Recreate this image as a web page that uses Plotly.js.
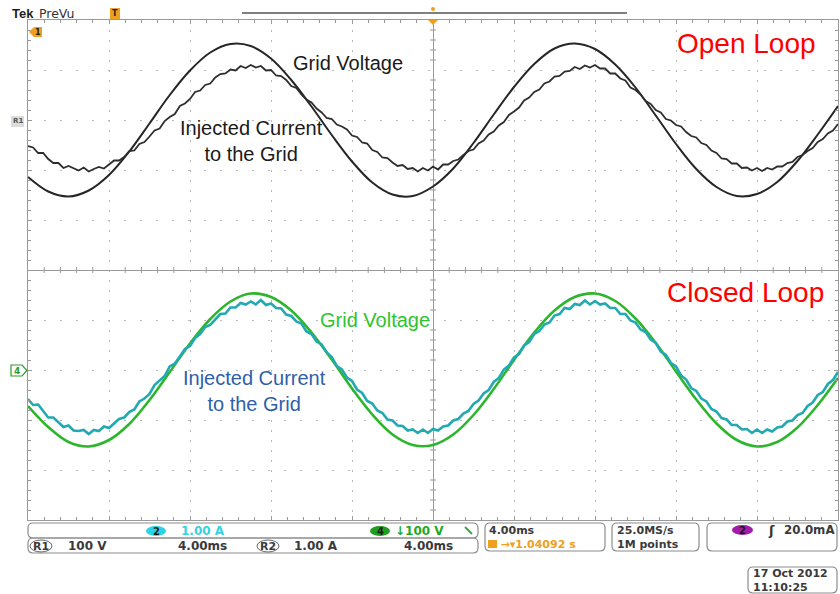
<!DOCTYPE html>
<html><head><meta charset="utf-8">
<script src="https://cdn.plot.ly/plotly-3.0.1.min.js"></script>
<style>html,body{margin:0;padding:0;background:#fff;}#chart{width:840px;height:594px;}</style>
</head><body><div id="chart"></div>
<script>
// ---- sampling (ms) ----
const timeStartMs = -20;
const voltageStepMs = 1;
const currentStepMs = 0.25;

// ---- Open loop (top): grid voltage [V] and injected current [A] ----
const openLoopGridVoltage = [-114,-143,-153,-141,-110,-63,-7,50,99,135,152,148,123,80,27,-30,-83,-125,-149,-152,-133,-97,-46,11,66,112,143,153,142,111,65,9,-48,-98,-134,-152,-148,-124,-82,-29,28];
const openLoopInjectedCurrent = [-0.52,-0.55,-0.66,-0.66,-0.78,-0.86,-0.86,-0.96,-0.92,-0.96,
-1.01,-0.95,-1.03,-0.98,-0.94,-0.97,-0.88,-0.81,-0.81,-0.74,
-0.62,-0.61,-0.48,-0.44,-0.33,-0.21,-0.17,-0.02,0.06,0.12,
0.28,0.33,0.42,0.56,0.59,0.70,0.73,0.85,0.92,0.93,
1.01,0.99,1.08,1.04,1.10,1.05,1.08,0.99,1.00,0.89,
0.88,0.80,0.68,0.64,0.51,0.41,0.35,0.23,0.15,0.04,
0.02,-0.09,-0.13,-0.19,-0.31,-0.34,-0.45,-0.47,-0.60,-0.64,
-0.75,-0.76,-0.85,-0.92,-0.90,-0.98,-0.96,-1.03,-0.96,-1.01,
-0.93,-0.99,-0.89,-0.89,-0.82,-0.79,-0.70,-0.62,-0.59,-0.47,
-0.41,-0.29,-0.23,-0.11,-0.04,0.10,0.17,0.25,0.39,0.45,
0.56,0.61,0.73,0.77,0.87,0.88,0.97,0.98,1.06,1.02,
1.09,1.05,1.10,1.03,1.03,0.93,0.93,0.83,0.79,0.65,
0.60,0.51,0.38,0.32,0.20,0.15,0.02,-0.01,-0.10,-0.13,
-0.24,-0.32,-0.35,-0.46,-0.50,-0.61,-0.66,-0.77,-0.78,-0.87,
-0.87,-0.96,-0.95,-1.01,-0.96,-1.02,-0.96,-0.99,-0.93,-0.93,
-0.86,-0.84,-0.74,-0.70,-0.62,-0.56,-0.44,-0.38,-0.27,-0.21,
-0.08];

// ---- Closed loop (bottom): grid voltage [V] and injected current [A] ----
const closedLoopGridVoltage = [-72,-114,-144,-153,-140,-108,-60,-4,53,102,137,153,146,119,75,21,-37,-89,-129,-150,-150,-129,-90,-38,20,75,119,146,153,138,103,54,-3,-59,-107,-140,-153,-144,-115,-70,-16];
const closedLoopInjectedCurrent = [-0.58,-0.70,-0.69,-0.83,-0.95,-0.95,-1.05,-1.14,-1.11,-1.21,
-1.22,-1.20,-1.28,-1.20,-1.22,-1.13,-1.16,-1.06,-0.98,-0.95,
-0.84,-0.79,-0.63,-0.57,-0.48,-0.30,-0.21,-0.12,0.07,0.13,
0.27,0.42,0.48,0.64,0.72,0.86,0.90,1.02,1.12,1.13,
1.25,1.25,1.34,1.31,1.37,1.31,1.40,1.30,1.33,1.24,
1.23,1.11,1.08,0.97,0.93,0.77,0.72,0.57,0.51,0.35,
0.26,0.08,0.01,-0.15,-0.22,-0.39,-0.46,-0.62,-0.67,-0.81,
-0.86,-0.99,-1.01,-1.11,-1.12,-1.21,-1.19,-1.26,-1.19,-1.26,
-1.18,-1.21,-1.13,-1.11,-1.01,-0.98,-0.87,-0.82,-0.68,-0.61,
-0.47,-0.40,-0.24,-0.16,0.01,0.09,0.25,0.32,0.49,0.56,
0.72,0.78,0.91,0.95,1.09,1.12,1.24,1.22,1.32,1.30,
1.39,1.31,1.38,1.31,1.33,1.24,1.24,1.12,1.12,0.99,
0.95,0.81,0.76,0.61,0.54,0.37,0.30,0.14,0.07,-0.11,
-0.19,-0.36,-0.42,-0.57,-0.63,-0.78,-0.83,-0.96,-0.99,-1.10,
-1.10,-1.19,-1.18,-1.26,-1.19,-1.26,-1.19,-1.23,-1.15,-1.13,
-1.03,-1.01,-0.90,-0.86,-0.72,-0.65,-0.50,-0.44,-0.28,-0.20,
-0.04];

// ---- labels ----
const labelGridVoltage = 'Grid Voltage';
const labelCurrent = 'Injected Current<br>to the Grid';
const labelOpen = 'Open Loop';
const labelClosed = 'Closed Loop';

// ---------------- layout helpers ----------------
const L=28,T=20,PW=810,PH=500;
const px=x=>(x-L)/PW, py=y=>(T+PH-y)/PH;
function rr(x0,y0,x1,y1,r){
  const a=px(x0),b=px(x1),c=py(y0),d=py(y1),rx=r/PW,ry=r/PH;
  return `M${a+rx},${c} L${b-rx},${c} Q${b},${c} ${b},${c-ry} L${b},${d+ry} Q${b},${d} ${b-rx},${d} L${a+rx},${d} Q${a},${d} ${a},${d+ry} L${a},${c-ry} Q${a},${c} ${a+rx},${c} Z`;
}
const shapes=[], ann=[];
function box(x0,y0,x1,y1){shapes.push({type:'path',xref:'paper',yref:'paper',path:rr(x0,y0,x1,y1,5),line:{color:'#8c8c8c',width:1.2},fillcolor:'rgba(0,0,0,0)'});}
function ell(x0,y0,x1,y1,fill,line){shapes.push({type:'circle',xref:'paper',yref:'paper',x0:px(x0),x1:px(x1),y0:py(y1),y1:py(y0),fillcolor:fill,line:line||{width:0}});}
function poly(pts,fill,line){shapes.push({type:'path',xref:'paper',yref:'paper',path:'M'+pts.map(p=>px(p[0])+','+py(p[1])).join(' L')+' Z',fillcolor:fill,line:line||{width:0}});}
function txt(x,y,s,color,size,anchor,weight,family){ann.push({xref:'paper',yref:'paper',x:px(x),y:py(y),text:s,showarrow:false,borderpad:0,xanchor:anchor||'left',yanchor:'middle',align:'left',font:{family:family||'DejaVu Sans',size:size||12,color:color||'#3a3a3a',weight:weight||'bold'}});}

const gridC='#b8b8b8', lineC='#9a9a9a';
// graticule center-line tick marks (decoration, paper coords)
for(let i=1;i<50;i++){ if(i%5===0) continue; const fx=i/50;
  shapes.push({type:'line',xref:'paper',yref:'paper',layer:'below',x0:fx,x1:fx,y0:0.5-3/PH,y1:0.5+3/PH,line:{color:lineC,width:1}});}
for(let i=1;i<50;i++){ if(i%5===0) continue; const fy=i/50;
  shapes.push({type:'line',xref:'paper',yref:'paper',layer:'below',y0:fy,y1:fy,x0:0.5-3/PW,x1:0.5+3/PW,line:{color:lineC,width:1}});}

// header
txt(11,14,'Tek','#1e1e1e',13,'left','bold','Liberation Sans');
txt(38,14,'PreVu','#333',12.5,'left','normal','DejaVu Sans');
shapes.push({type:'line',xref:'paper',yref:'paper',x0:px(242),x1:px(627),y0:py(13),y1:py(13),line:{color:'#555',width:1.5}});
shapes.push({type:'rect',xref:'paper',yref:'paper',x0:px(110),x1:px(120),y0:py(19),y1:py(8),fillcolor:'#f0a020',line:{width:0}});
txt(115,13.5,'T','#222',8,'center','bold');
poly([[428,20],[438,20],[433,25]],'#f0a020');
ell(431,7,435,11,'#f0a020');
// left markers
poly([[29,32],[34,27],[42,27],[42,37],[34,37]],'#f0a020');
txt(38,32,'1','#222',8,'center','bold');
shapes.push({type:'rect',xref:'paper',yref:'paper',x0:px(11),x1:px(24),y0:py(127),y1:py(116),fillcolor:'#dcdcdc',line:{width:0}});
txt(17.5,121.5,'R1','#555',7,'center','bold');
poly([[11,365],[22,365],[27,370.5],[22,376],[11,376]],'#ffffff',{color:'#2a9d2a',width:1.2});
txt(17,370.5,'4','#2a9d2a',9,'center','bold');

// status area
box(28,523,478,538); box(28,538,478,553);
box(485,523,605,551); box(612,523,699,551); box(707,523,837,551);
box(748,567,837,593);
ell(146,526,166,536,'#2ad4e4'); txt(156,531,'2','#1a1a1a',10,'center','bold');
txt(180,531,'1.00 A','#35d2e2',12);
ell(370,526,390,536,'#1f9e1f'); txt(380,531,'4','#1a1a1a',10,'center','bold');
txt(394,531,'↓100 V','#22a822',12);
shapes.push({type:'line',xref:'paper',yref:'paper',x0:px(465),x1:px(472),y0:py(527),y1:py(534),line:{color:'#3aaa3a',width:2}});
ell(30,540,52,552,'rgba(0,0,0,0)',{color:'#666',width:1});
txt(41,546,'R1','#3a3a3a',11,'center');
txt(67,546,'100 V'); txt(177,546,'4.00ms');
ell(257,540,279,552,'rgba(0,0,0,0)',{color:'#666',width:1});
txt(268,546,'R2','#3a3a3a',11,'center');
txt(293,546,'1.00 A'); txt(403,546,'4.00ms');
shapes.push({type:'rect',xref:'paper',yref:'paper',x0:px(488),x1:px(497),y0:py(548),y1:py(540),fillcolor:'#f0a020',line:{width:0}});
txt(488,537,'4.00ms<br><span style="color:#f0a020">   →▾1.04092 s</span>',null,11);
txt(616,537,'25.0MS/s<br>1M points',null,11);
ell(732,525,753,535,'#a21ca8'); txt(742.5,530,'2','#1a1a1a',10,'center','bold');
txt(767,530,'ʃ','#333',13);
txt(783,530,'20.0mA',null,11.8);
txt(752,580,'17 Oct 2012<br>11:10:25',null,11);

// chart annotations
const AF='Arial, Liberation Sans, sans-serif';
ann.push({xref:'paper',yref:'paper',x:px(348),y:py(63),text:labelGridVoltage,showarrow:false,xanchor:'center',yanchor:'middle',font:{family:AF,size:20,color:'#1a1a1a'}});
ann.push({xref:'paper',yref:'paper',x:px(251),y:py(141),text:labelCurrent,showarrow:false,xanchor:'center',yanchor:'middle',font:{family:AF,size:20,color:'#1a1a1a'}});
ann.push({xref:'paper',yref:'paper',x:px(746),y:py(43),text:labelOpen,showarrow:false,xanchor:'center',yanchor:'middle',font:{family:AF,size:28,color:'#ff0000'}});
ann.push({xref:'paper',yref:'paper',x:px(745),y:py(292),text:labelClosed,showarrow:false,xanchor:'center',yanchor:'middle',font:{family:AF,size:28,color:'#ff0000'}});
ann.push({xref:'paper',yref:'paper',x:px(375),y:py(320),text:labelGridVoltage,showarrow:false,xanchor:'center',yanchor:'middle',font:{family:AF,size:20,color:'#2ec42e'}});
ann.push({xref:'paper',yref:'paper',x:px(255),y:py(391),text:labelCurrent,showarrow:false,xanchor:'center',yanchor:'middle',font:{family:AF,size:20,color:'#2f5fa8'}});

const traces=[
 {type:'scatter',mode:'lines',x:[null],y:[null],xaxis:'x',yaxis:'y',hoverinfo:'skip'},
 {type:'scatter',mode:'lines',x0:timeStartMs,dx:voltageStepMs,y:openLoopGridVoltage,yaxis:'y2',line:{color:'#262626',width:2,shape:'spline',smoothing:1},hoverinfo:'skip'},
 {type:'scatter',mode:'lines',x0:timeStartMs,dx:currentStepMs,y:openLoopInjectedCurrent,yaxis:'y3',line:{color:'#2e2e2e',width:1.8},hoverinfo:'skip'},
 {type:'scatter',mode:'lines',x0:timeStartMs,dx:currentStepMs,y:closedLoopInjectedCurrent,yaxis:'y5',line:{color:'#22a9b1',width:2.6},hoverinfo:'skip'},
 {type:'scatter',mode:'lines',x0:timeStartMs,dx:voltageStepMs,y:closedLoopGridVoltage,yaxis:'y4',line:{color:'#2db52d',width:2.6,shape:'spline',smoothing:1},hoverinfo:'skip'}
];

const layout={
 width:840,height:594,margin:{l:28,r:2,t:20,b:74},
 paper_bgcolor:'#fff',plot_bgcolor:'#fff',showlegend:false,
 xaxis:{range:[-20,20],dtick:4,tick0:0,showgrid:true,gridcolor:gridC,griddash:'2px,8px',gridwidth:1,
   zeroline:true,zerolinecolor:lineC,zerolinewidth:1,showline:true,linecolor:lineC,linewidth:1,mirror:'ticks',
   ticks:'inside',ticklen:4,tickcolor:lineC,showticklabels:false,
   minor:{ticks:'inside',ticklen:3,dtick:0.8,tick0:0,tickcolor:lineC,showgrid:false}},
 yaxis:{range:[-5,5],dtick:1,tick0:0,showgrid:true,gridcolor:gridC,griddash:'2px,14px',gridwidth:1,
   zeroline:true,zerolinecolor:lineC,zerolinewidth:1,showline:true,linecolor:lineC,linewidth:1,mirror:'ticks',
   ticks:'inside',ticklen:4,tickcolor:lineC,showticklabels:false,
   minor:{ticks:'inside',ticklen:3,dtick:0.2,tick0:0,tickcolor:lineC,showgrid:false}},
 yaxis2:{overlaying:'y',range:[-800,200],visible:false},
 yaxis3:{overlaying:'y',range:[-8,2],visible:false},
 yaxis4:{overlaying:'y',range:[-300,700],visible:false},
 yaxis5:{overlaying:'y',range:[-3,7],visible:false},
 shapes:shapes, annotations:ann
};
Plotly.newPlot('chart',traces,layout,{displayModeBar:false,staticPlot:true});
</script></body></html>
